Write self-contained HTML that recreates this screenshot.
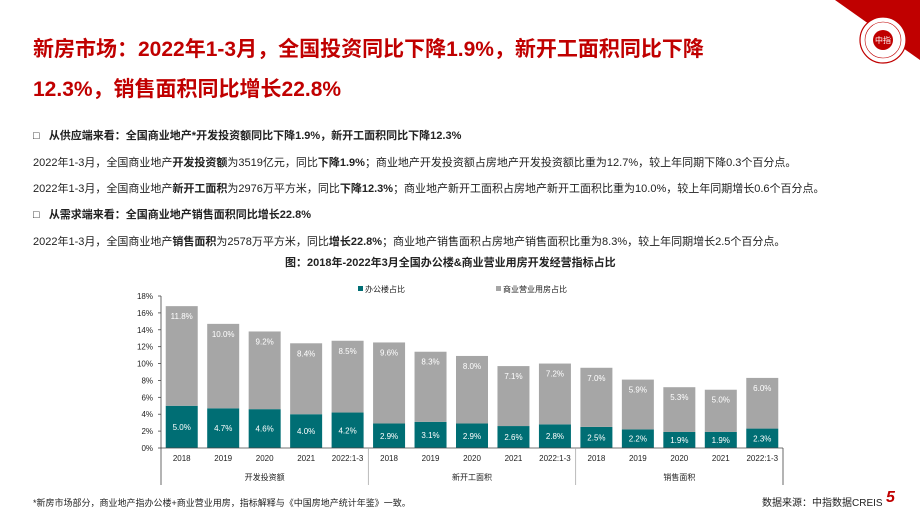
<!DOCTYPE html>
<html><head><meta charset="utf-8">
<style>
body{margin:0;width:920px;height:518px;overflow:hidden;background:#fff;font-family:"Liberation Sans","Noto Sans CJK SC",sans-serif;position:relative}
.t{position:absolute;white-space:nowrap;color:#222}
h1{position:absolute;left:33px;top:30px;margin:0;font-size:21px;line-height:40px;color:#c00000;font-weight:bold;width:800px}
.b{font-weight:bold}
.p{font-size:11px;left:33px}
</style></head><body>
<svg width="920" height="518" style="position:absolute;left:0;top:0">
<polygon points="835,0 920,0 920,60" fill="#c00000"/>
<g>
<circle cx="883" cy="40" r="23" fill="#fff" stroke="#c00000" stroke-width="1.2"/>
<circle cx="883" cy="40" r="18" fill="none" stroke="#c00000" stroke-width="0.6"/>
<circle cx="883" cy="40" r="10" fill="#c00000"/>
<text x="883" y="43" font-size="8" fill="#fff" text-anchor="middle" font-family="Noto Sans CJK SC">中指</text>
</g>
<g id="chart"></g>
</svg>
<h1>新房市场：2022年1-3月，全国投资同比下降1.9%，新开工面积同比下降<br>12.3%，销售面积同比增长22.8%</h1>
<div class="t p b" style="top:127px">□&nbsp;&nbsp;&nbsp;从供应端来看：全国商业地产*开发投资额同比下降1.9%，新开工面积同比下降12.3%</div>
<div class="t p" style="top:154px">2022年1-3月，全国商业地产<b>开发投资额</b>为3519亿元，同比<b>下降1.9%</b>；商业地产开发投资额占房地产开发投资额比重为12.7%，较上年同期下降0.3个百分点。</div>
<div class="t p" style="top:180px">2022年1-3月，全国商业地产<b>新开工面积</b>为2976万平方米，同比<b>下降12.3%</b>；商业地产新开工面积占房地产新开工面积比重为10.0%，较上年同期增长0.6个百分点。</div>
<div class="t p b" style="top:206px">□&nbsp;&nbsp;&nbsp;从需求端来看：全国商业地产销售面积同比增长22.8%</div>
<div class="t p" style="top:233px">2022年1-3月，全国商业地产<b>销售面积</b>为2578万平方米，同比<b>增长22.8%</b>；商业地产销售面积占房地产销售面积比重为8.3%，较上年同期增长2.5个百分点。</div>
<div class="t b" style="top:254px;left:285px;font-size:11px">图：2018年-2022年3月全国办公楼&amp;商业营业用房开发经营指标占比</div>
<div class="t" style="top:496px;left:33px;font-size:9px">*新房市场部分，商业地产指办公楼+商业营业用房，指标解释与《中国房地产统计年鉴》一致。</div>
<div class="t" style="top:494px;left:762px;font-size:10px">数据来源：中指数据CREIS</div>
<div class="t b" style="top:489px;left:886px;font-size:16px;color:#c00000;font-style:italic">5</div>
<script>
const categories=["2018","2019","2020","2021","2022:1-3","2018","2019","2020","2021","2022:1-3","2018","2019","2020","2021","2022:1-3"];
const groups=["开发投资额","新开工面积","销售面积"];
const office=[5.0,4.7,4.6,4.0,4.2,2.9,3.1,2.9,2.6,2.8,2.5,2.2,1.9,1.9,2.3];
const retail=[11.8,10.0,9.2,8.4,8.5,9.6,8.3,8.0,7.1,7.2,7.0,5.9,5.3,5.0,6.0];
const yTicks=[0,2,4,6,8,10,12,14,16,18];
const NS="http://www.w3.org/2000/svg";
const g=document.getElementById('chart');
const x0=161,x1=783,y0=448,yTop=296,yMax=18;
const step=(x1-x0)/categories.length;
const ys=v=>y0-v*(y0-yTop)/yMax;
const xc=i=>x0+step*(i+0.5);
function mk(t,a,txt){const e=document.createElementNS(NS,t);for(const k in a)e.setAttribute(k,a[k]);if(txt!==undefined)e.textContent=txt;g.appendChild(e);return e;}
const font='Liberation Sans, Noto Sans CJK SC, sans-serif';
yTicks.forEach(v=>{
 const e=mk('text',{x:x0-8,y:ys(v)+3,'font-size':8,'text-anchor':'end',fill:'#222','font-family':font},v+'%');
 
 
 const t=mk('line',{x1:x0-3,x2:x0,y1:ys(v),y2:ys(v),stroke:'#444','stroke-width':0.8});
 
 
});
categories.forEach((c,i)=>{
 const w=32,x=xc(i)-w/2;
 const b1=mk('rect',{x:x,y:ys(office[i]),width:w,height:y0-ys(office[i]),fill:'#006e74'});
 
 
 const tot=office[i]+retail[i];
 const b2=mk('rect',{x:x,y:ys(tot),width:w,height:ys(office[i])-ys(tot),fill:'#a6a6a6'});
 
 
 const l1=mk('text',{x:xc(i),y:ys(office[i]/2)+3,'font-size':8,'text-anchor':'middle',fill:'#fff','font-family':font},office[i].toFixed(1)+'%');
 
 
 const l2=mk('text',{x:xc(i),y:ys(tot)+13,'font-size':8,'text-anchor':'middle',fill:'#fff','font-family':font},retail[i].toFixed(1)+'%');
 
 
 const cl=mk('text',{x:xc(i),y:y0+13,'font-size':8,'text-anchor':'middle',fill:'#222','font-family':font},c);
 
 
});
const ax=mk('line',{x1:x0,x2:x1,y1:y0,y2:y0,stroke:'#444','stroke-width':0.8});


const ay=mk('line',{x1:x0,x2:x0,y1:yTop,y2:485,stroke:'#444','stroke-width':0.8});


groups.forEach((gn,k)=>{
 const xe=x0+step*5*(k+1);
 const d=mk('line',{x1:xe,x2:xe,y1:y0,y2:485,stroke:k<2?'#aaa':'#444','stroke-width':0.8});
 
 
 const t=mk('text',{x:x0+step*(5*k+2.5),y:480,'font-size':8,'text-anchor':'middle',fill:'#222','font-family':font},gn);
 
 
});
const lg1=mk('rect',{x:358,y:286,width:5,height:5,fill:'#006e74'});


const lt1=mk('text',{x:365,y:292,'font-size':8,fill:'#222','font-family':font},'办公楼占比');


const lg2=mk('rect',{x:496,y:286,width:5,height:5,fill:'#a6a6a6'});


const lt2=mk('text',{x:503,y:292,'font-size':8,fill:'#222','font-family':font},'商业营业用房占比');


</script>
</body></html>
